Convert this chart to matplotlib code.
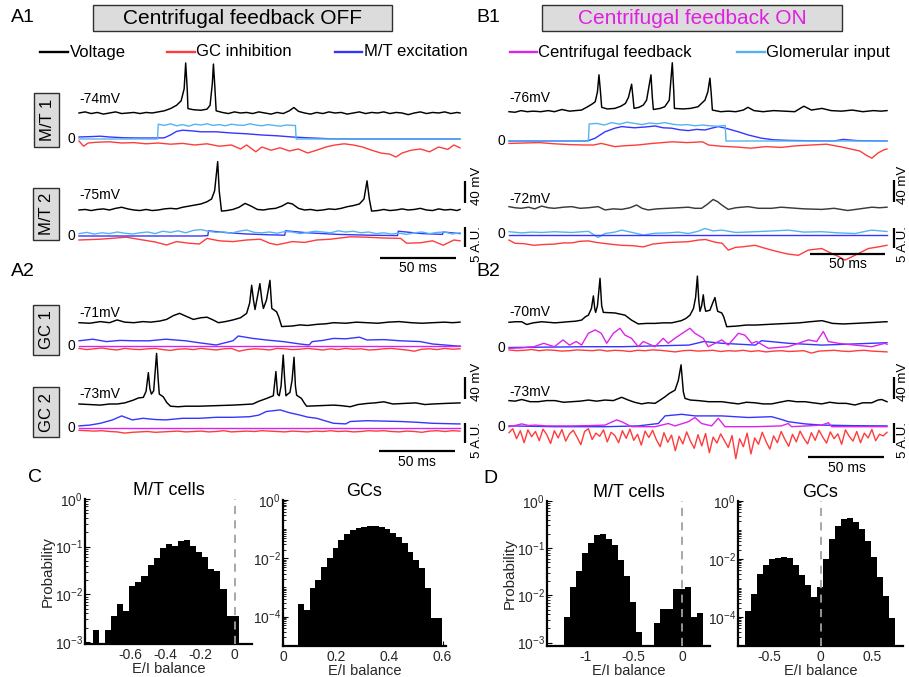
import numpy as np
import matplotlib
matplotlib.use("Agg")
import matplotlib.pyplot as plt
from matplotlib.patches import Rectangle
from matplotlib.lines import Line2D
from matplotlib.ticker import FixedLocator, NullFormatter, LogFormatterSciNotation

plt.rcParams['font.family'] = ['Liberation Sans', 'DejaVu Sans']
plt.rcParams['axes.unicode_minus'] = False
plt.rcParams['mathtext.fontset'] = 'custom'
plt.rcParams['mathtext.rm'] = 'Liberation Sans'
plt.rcParams['mathtext.it'] = 'Liberation Sans:italic'
plt.rcParams['mathtext.bf'] = 'Liberation Sans:bold'

# ======================= DATA =======================
t5 = np.arange(0, 251, 5)
t25 = np.arange(0, 250.1, 2.5)

# ---- A1, M/T 1 (feedback OFF) ----
a1m1_vt = [0,4,8,12,16,20,24,28,32,36,40,44,48,52,56,60,64,67,69,70,71,71.5,75,80,84,86,87.5,88.2,89,90,
           94,98,102,106,110,114,118,122,126,130,134,138,141,144,148,152,156,160,164,168,172,176,180,184,188,
           192,196,200,204,208,212,216,220,224,228,232,236,240,244,248,250]
a1m1_v = [-74,-72,-75,-73,-76,-74,-72,-75,-74,-73,-75,-73,-74,-72,-70,-66,-60,-52,-30,17,-30,-66,-68,-69,-67,-60,-20,15,-20,-70,
          -73,-75,-72,-74,-73,-75,-72,-74,-76,-73,-75,-70,-64,-71,-74,-76,-73,-75,-72,-74,-73,-76,-74,-72,-75,
          -73,-74,-72,-75,-73,-74,-77,-74,-72,-75,-73,-74,-72,-75,-73,-74]
a1m1_glt = [0,51.5,52,56,60,64,68,72,76,80,84,88,92,96,100,104,108,112,116,120,124,128,132,136,140,142,142.5,250]
a1m1_gl = [0,0,3.7,3.4,3.8,3.3,3.6,3.2,3.7,3.5,3.8,3.4,3.6,3.3,3.7,3.5,3.4,3.8,3.5,3.3,3.6,3.4,3.2,3.5,3.4,3.4,0,0]
a1m1_mtt = [0,8,14,20,30,40,50,56,60,64,68,75,80,90,100,110,120,130,140,150,165,180,250]
a1m1_mt = [0.5,0.6,0.7,0.5,0.3,0.25,0.25,0.3,1.0,1.9,2.2,2.0,1.8,1.8,1.5,1.3,1.0,0.8,0.5,0.3,0.05,0,0]
a1m1_gct = [0,3,6,12,20,28,36,44,52,60,68,76,84,92,100,106,110,116,120,126,132,138,144,150,156,162,168,174,180,186,
            192,198,204,208,212,218,224,230,236,242,246,250]
a1m1_gc = [-0.5,-1.8,-1.0,-0.8,-0.7,-1.0,-0.9,-1.2,-1.0,-1.3,-1.1,-1.5,-1.2,-1.8,-1.5,-2.5,-1.5,-3.2,-2.0,-2.8,
           -2.2,-3.0,-2.5,-3.5,-2.8,-2.0,-1.5,-1.2,-1.5,-2.0,-2.8,-3.5,-3.8,-4.5,-3.5,-2.8,-2.5,-3.2,-2.0,-2.6,-1.5,-2.2]

# ---- A1, M/T 2 ----
a1m2_vt = [0,4,8,12,16,20,24,28,32,36,40,44,48,52,56,60,64,68,72,76,80,84,87,89,91,92,93.5,97,101,105,109,113,117,121,
           125,129,133,137,140,144,148,152,156,160,164,168,172,176,180,184,187,189,190.5,192,196,200,204,208,212,216,
           220,224,228,232,236,240,244,248,250]
a1m2_v = [-75,-74,-76,-74,-73,-75,-72,-70,-73,-75,-76,-74,-76,-75,-73,-72,-73,-70,-68,-66,-64,-60,-55,-40,13,-40,-77,
          -76,-74,-70,-63,-68,-74,-75,-73,-72,-68,-62,-64,-72,-75,-74,-76,-75,-73,-74,-72,-69,-67,-64,-55,-22,-55,-77,
          -76,-74,-76,-75,-73,-75,-74,-72,-75,-76,-73,-75,-74,-76,-74]
a1m2_mtt = [0,80,84.5,85,95,110,125,135,135.5,150,170,190,209,209.5,225,238.5,239,250]
a1m2_mt = [0,0,0.1,1.3,0.9,0.5,0.3,0.2,1.3,0.8,0.4,0.2,0.1,1.2,0.6,0.4,1.0,0.6]
a1m2_gl = [0.6,0.9,0.5,0.8,0.6,1.0,0.7,0.5,0.8,1.0,0.6,1.2,0.9,1.3,0.8,1.4,1.6,1.2,0.9,1.0,0.7,1.2,1.5,0.9,0.8,1.0,
           0.7,1.1,1.0,0.6,0.9,1.2,1.0,0.8,1.3,1.0,1.2,0.8,1.0,0.6,0.8,0.5,0.7,0.4,0.8,1.0,0.6,0.9,1.0,0.5,0.8]
a1m2_gct = [0,14,31,42,50,57.5,64,72,79,84,92,101,110,119,125,130,140,148,156,165,178,189,200,211,215,224,232,239,246,250]
a1m2_gc = [-1.0,-0.8,-0.3,-1.0,-1.5,-2.25,-1.4,-1.8,-2.0,-0.6,-1.2,-1.4,-1.0,-0.8,-1.8,-2.2,-1.4,-1.6,-1.0,-0.8,
           -0.2,-0.3,-0.5,-0.6,-1.8,-1.7,-1.2,-2.3,-1.0,-1.2]

# ---- A2, GC 1 ----
a2g1_vt = [0,7,14,20,25,30,36,42,47,53,57.5,62,66,70,75,80,84,88,91.5,96,101,106,110,112,113.3,114.5,115.5,117,118.7,
           120,121,123,125.3,126.5,129.6,131,133,140,145,150,156,162,167,175,182,189,196,203,210,218,225,232,240,245,250]
a2g1_v = [-71,-72,-69,-71,-66,-70,-71,-69,-70,-68,-65,-58,-54,-59,-65,-62,-61,-66,-71,-69,-66,-62,-54,-35,-3,-30,-47,
          -25,0,-30,-45,-30,6,-45,-51,-60,-78,-77,-75,-76,-74,-73,-71,-72,-70,-71,-72,-70,-69,-71,-72,-71,-70,-71,-70]
a2g1_mtt = [0,9,18,27,36,46,57,70,79,90,101,104.5,114,123,134,145,151,153,160,167,175,184,189,200,211,224,232,248,250]
a2g1_mt = [1.3,1.7,1.1,1.4,1.3,1.3,1.7,1.3,0.8,0.25,1.3,2.5,1.9,1.5,1.1,0.5,0.25,1.1,1.4,1.9,1.8,2.2,1.5,1.6,1.3,
           1.1,0.5,0.0,0]
a2g1_cft = [0, 250]
a2g1_cf = [0, 0]
a2g1_gc = [-0.6,-0.9,-0.7,-0.5,-0.8,-1.0,-0.6,-0.8,-0.9,-0.7,-0.6,-0.9,-1.1,-0.8,-0.7,-0.9,-0.6,-0.8,-1.0,-0.7,
           -0.6,-1.3,-0.9,-0.7,-0.8,-1.0,-0.6,-0.7,-0.9,-0.8,-0.6,-0.8,-1.0,-0.7,-0.9,-0.6,-0.8,-0.7,-1.0,-0.9,
           -0.7,-0.6,-0.8,-1.0,-1.3,-0.8,-0.7,-0.9,-0.6,-0.8,-0.7]

# ---- A2, GC 2 ----
a2g2_vt = [0,7,14,20,25,30,35.6,39,42.2,44,45.5,46.5,47.5,49,50.9,52,52.7,55.3,57.5,60,65,70,79,90,101,108,114,118,123,
           127.5,129.2,130.3,131.4,132.6,134,135,135.8,137,138.4,139.8,141.1,142,142.8,146,148,149.4,158,167,172,178,
           183,189,194,200,206,213,221,227,232,240,250]
a2g2_v = [-73,-74,-75,-73,-73,-71,-66,-62,-61,-50,-16,-45,-55,-49,19,-30,-55,-60,-70,-77,-78,-77,-77,-76,-75,-74,-73,
          -68,-63,-58,-14,-55,-58,-40,16,-30,-58,-55,-52,-30,12,-40,-57,-63,-72,-77,-76,-75,-76,-78,-74,-72,-71,-69,
          -73,-72,-71,-74,-73,-72,-71]
a2g2_mtt = [0,7,14,22,28,35,42,50,57,68,79,90,101,112,118,123,132,138,145,150,156,167,175,178,189,200,211,222,232,248,250]
a2g2_mt = [0.6,0.8,1.25,2.1,3.1,2.1,2.5,2.2,2.1,2.5,2.5,2.75,2.75,2.9,3.3,4.2,4.6,3.9,3.3,2.8,2.5,1.25,1.1,1.7,1.9,
           1.8,1.7,1.5,1.25,1.1,1.1]
a2g2_cft = [0, 250]
a2g2_cf = [0, 0]
a2g2_gc = [-0.5,-0.6,-0.7,-0.6,-0.8,-0.9,-1.2,-1.0,-0.9,-0.8,-1.0,-0.9,-0.8,-0.7,-0.9,-0.8,-0.7,-0.9,-0.8,-0.6,
           -0.9,-0.8,-0.7,-0.8,-0.6,-0.7,-0.8,-0.9,-0.7,-0.8,-0.9,-0.7,-0.8,-0.6,-0.8,-0.7,-0.9,-0.8,-0.6,-0.7,
           -0.6,-0.8,-0.9,-0.7,-0.8,-1.0,-0.7,-0.6,-0.8,-0.6,-0.7]

# ---- B1, M/T 1 (feedback ON) ----
b1m1_vt = [0,4,8,12,16,21,26,30,35,40,44,48,52,55,57,58.5,59.5,60.5,61.3,65,70,74,77,79,81.1,82,82.7,86,88.8,91,93.9,
           94.8,95.5,100,103,106,108,109,109.4,115,120,125,129.6,131.5,132.9,133.8,134.5,140,145,150,155,158,162,168,
           175,182,189,195,200,207,213,220,227,234,241,246,250]
b1m1_v = [-76,-77,-74,-76,-75,-76,-74,-76,-72,-75,-74,-73,-67,-62,-58,-40,-9,-40,-68,-71,-70,-66,-61,-50,-26,-50,-70,
          -68,-64,-55,-9,-50,-72,-70,-67,-55,13,-40,-70,-71,-70,-67,-55,-40,-15,-45,-73,-76,-75,-76,-73,-68,-74,-76,
          -74,-75,-76,-66,-73,-70,-74,-75,-73,-76,-74,-75,-74]
b1m1_glt = [0,52.5,53,58,63,68,73,78,83,88,93,98,103,108,113,118,123,128,133,138,143,143.5,250]
b1m1_gl = [0,0,4.25,4.4,4.0,4.6,4.2,4.7,4.4,4.1,4.5,4.3,4.6,4.2,4.0,4.1,3.8,4.0,3.8,3.7,3.9,0,0]
b1m1_mtt = [0,50,52.5,57,63.5,70,74.5,83,90,96.6,102,107.6,113,118.6,124,129.6,134,138.4,143.3,151.7,158.3,167,175,
            185,200,215,221,230,250]
b1m1_mt = [0,0,0.1,0.7,2.3,3.2,3.6,3.3,3.5,3.75,3.3,3.2,2.8,2.6,2.9,2.75,3.2,3.6,3.2,2.3,1.5,0.7,0.3,0.15,0.05,0,
           0.4,0.1,0]
b1m1_gct = [0,10,20,30,40,50,56,61,70,76,85,95,108,118,128,132,140,150,160,170,180,190,200,210,220,226,232,236,240,
            244,248,250]
b1m1_gc = [-0.6,-0.5,-0.4,-0.7,-0.9,-1.0,-1.0,-0.6,-1.4,-1.2,-1.0,-0.6,-0.2,-0.4,-0.2,-1.0,-1.3,-1.5,-1.8,-1.4,
           -1.6,-1.2,-1.0,-0.8,-1.5,-2.0,-2.5,-3.5,-4.3,-3.0,-2.2,-2.0]

# ---- B1, M/T 2 ----
b1m2_vt = [0,4,8,13,17,21.6,26,30,36,41.5,47,52.5,59,63.5,69,74.5,80,84.4,88,92,98,105,112,118.6,123,127.4,131,135,
           138,140.7,145,150,158,165,173.7,180,185,195,207,215,224,232,240,245,250]
b1m2_v = [-69,-71,-72,-70,-73,-68,-71,-72,-70,-69,-72,-71,-69,-75,-73,-74,-71,-66,-72,-75,-73,-72,-71,-70,-72,-72,
          -65,-56,-60,-66,-74,-71,-69,-72,-72,-70,-71,-73,-74,-72,-76,-73,-70,-71,-70]
b1m2_glt = [0,8.4,15,21.6,30,41.5,52.5,59,63.5,70,74.5,84,88.8,96,105,112,118.6,125,129.6,135,140.7,150,162.8,175,
            184.7,195,206.8,218,228.8,239.9,250]
b1m2_gl = [0.7,0.4,0.6,0.5,0.7,0.5,0.8,-0.75,0.25,0.6,1.1,0.3,-0.15,0.3,0.4,0.6,0.25,0.8,1.5,0.9,1.1,0.5,0.7,0.9,
           1.1,0.6,0.7,0.4,0.25,1.1,0.75]
b1m2_mtt = [0, 250]
b1m2_mt = [0, 0]
b1m2_gct = [0,4,10,16.5,23,30,36,41.5,47,52.5,58,63.5,69,74.5,82,88.8,95,105,118.6,125,130,136,141,145,150,154,162.8,
            168,173.7,180,184.7,191.4,197.9,206.8,213.4,218,222.2,228.8,237.7,244.3,250]
b1m2_gc = [-1.4,-2.2,-2.3,-2.7,-2.5,-2.4,-2.1,-2.1,-1.7,-1.6,-2.0,-2.25,-2.5,-2.7,-2.8,-3.1,-2.4,-2.0,-1.8,-1.4,
           -1.25,-1.9,-2.2,-3.9,-3.2,-3.1,-2.7,-3.3,-3.9,-4.5,-4.9,-5.2,-3.9,-3.5,-4.75,-5.5,-6.4,-5.2,-3.5,-3.1,-2.7]

# ---- B2, GC 1 ----
b2g1_vt = [0,4,8.4,11.7,16,21.6,26,30.4,35,39,44,48,50.5,52.5,54.5,55.8,56.7,57.3,58.5,60.2,61.3,62.4,70,76.7,81,
           85.5,91,96.6,102,107.6,114,117,119.7,122,123.4,124.6,125.5,126.3,127.4,128.5,129.3,130.1,132.9,134.7,136.2,
           137.2,138,140.7,142,144,150,157,163,170,177,185,192,199,207,214,221,229,236,243,249,250]
b2g1_v = [-70,-69,-69,-74,-71,-69,-70,-71,-70,-69,-68,-66,-60,-57,-45,-22,-45,-52,-40,10,-40,-52,-53,-57,-66,-73,
          -72,-72,-71,-71,-67,-63,-57,-45,-25,14,-30,-50,-40,-20,-40,-50,-48,-35,-25,-40,-50,-53,-60,-78,-77,-75,
          -75,-74,-73,-72,-71,-69,-67,-72,-73,-72,-71,-70,-69,-69]
b2g1_cft = [0,8,16.5,23,30,35.7,40,44.5,48,52.5,57,61,64.6,69,73.4,76.7,81,85.5,88.8,96.6,102,105.3,109.7,116.4,119.7,
            123,128.5,131.8,140.7,145,151.7,156,160.5,163.8,171.5,184.7,198,203.5,207.9,211.2,217.8,228.8,239.9,248.7,250]
b2g1_cf = [0,0.1,0.4,1.25,0.4,2.1,0.8,1.7,0.8,3.75,4.6,3.75,1.25,3.75,5.0,3.3,2.5,0.4,1.7,0.4,2.5,1.25,2.5,4.2,5.0,
           3.75,2.5,0.4,2.1,0.8,3.75,3.3,1.25,1.7,0,0.4,2.1,1.7,4.2,1.7,1.25,0.8,0.4,1.25,1.0]
b2g1_mtt = [0,52,75,96,119,129,141,163,167,185,207,229,250]
b2g1_mt = [0.2,0.4,0.4,0.6,0.8,1.7,1.25,0.8,1.9,1.25,0.8,1.1,1.4]
b2g1_gc = [-0.4,-0.6,-0.5,-0.3,-0.6,-0.4,-0.5,-0.7,-0.6,-0.4,-0.5,-0.6,-0.4,-0.7,-0.5,-0.6,-0.8,-0.5,-0.6,-0.4,
           -0.5,-0.7,-0.9,-0.6,-0.5,-0.7,-0.6,-0.5,-0.8,-0.6,-0.7,-0.5,-0.8,-0.6,-0.9,-0.7,-0.6,-0.8,-0.7,-0.6,
           -1.2,-0.7,-0.6,-0.5,-0.7,-0.8,-0.6,-0.5,-0.7,-0.8,-0.9]

# ---- B2, GC 2 ----
b2g2_vt = [0,4,8.4,14,19.4,25,30.4,36,41.5,47,52.5,58,63.5,69,74.5,78.9,83,87.7,92,96.6,100,103.2,106,109.8,112,113.8,
           115.3,116.4,120,125.2,132,140.7,146,151.7,157,162.8,168,173.7,179,184.7,190,195.8,201,206.8,212,217.8,223,
           228.8,234,239.9,244,246.5,250]
b2g2_v = [-71,-72,-69,-73,-73,-71,-71,-74,-73,-72,-70,-72,-70,-71,-65,-70,-74,-77,-75,-76,-70,-64,-58,-52,-34,-6,
          -55,-67,-70,-71,-73,-73,-75,-77,-74,-75,-77,-77,-74,-71,-73,-73,-75,-77,-74,-76,-76,-79,-75,-75,-70,-69,-73]
b2g2_mtt = [0,30,63.5,85.5,98.8,103.2,114.2,123,140.7,158.3,173.7,180.3,184.7,195.8,206.8,228.8,250]
b2g2_mt = [0.2,0,0,0.2,0.8,2.7,3.1,2.7,2.7,2.3,2.5,1.8,1.25,0.7,0.4,0.25,0.2]
b2g2_cft = [0,4,8.4,13,17.2,25,41.5,55,63.5,71.2,74.5,81.1,96.6,105.3,109.8,118.6,123,127.4,134,138.4,142.9,162.8,180,
            184.7,186.9,206.8,211.2,213.4,250]
b2g2_cf = [0,0.3,0.7,0.3,0.4,0.2,0.2,0.3,0.4,1.7,1.25,0,0,0.8,0.2,1.25,2.3,0.8,0.2,2.1,0,0,0.2,0.8,0,0.4,1.0,0,0]
b2g2_gc = [-1.5,-0.5,-3.0,-1.0,-4.0,-0.8,-2.5,-1.2,-3.5,-0.6,-2.0,-4.2,-1.0,-2.8,-0.7,-3.6,-1.8,-0.9,-2.6,-4.5,
           -1.2,-0.5,-3.2,-1.6,-2.4,-0.8,-3.8,-1.4,-2.2,-4.0,-1.0,-2.9,-0.6,-3.4,-1.9,-4.6,-1.1,-2.7,-0.9,-3.3,
           -5.0,-1.5,-3.9,-2.1,-6.0,-2.4,-4.3,-1.3,-3.6,-5.4,-2.0,-4.8,-1.7,-6.5,-2.6,-4.1,-1.8,-3.5,-5.2,-2.2,
           -8.0,-3.0,-5.0,-1.6,-6.8,-2.8,-4.4,-1.4,-3.7,-5.6,-2.3,-4.0,-1.2,-3.2,-4.9,-1.9,-3.8,-1.1,-2.9,-4.3,
           -1.5,-3.4,-0.9,-2.6,-4.1,-1.3,-3.0,-1.8,-4.4,-0.8,-2.4,-3.6,-1.2,-4.0,-1.6,-2.8,-0.7,-3.5,-1.9,-2.3,-1.4]

# ---- E/I balance histograms (bin start, bin width, probability per bin) ----
hc_mt_start, hc_mt_w = -0.819, 0.0351
hc_mt_p = [1.76e-3,0,1.76e-3,3.5e-3,6.2e-3,4.5e-3,0.0149,0.0184,0.0242,0.0406,0.058,0.093,0.112,0.104,0.132,0.139,
           0.104,0.079,0.062,0.0334,0.0308,0.0127,3.47e-3,3.47e-3]
hc_gc_start, hc_gc_w = 0.0565, 0.0217
hc_gc_p = [2.6e-4,1.7e-4,9.3e-4,1.8e-3,4.9e-3,0.0102,0.0234,0.0427,0.0708,0.0933,0.112,0.123,0.129,0.129,0.117,
           0.100,0.0741,0.0537,0.0324,0.0170,8.5e-3,4.6e-3,9.3e-4,8.7e-5,8.7e-5]
hd_mt_start, hd_mt_w = -1.225, 0.0626
hd_mt_p = [3.5e-3,0.0151,0.0324,0.0776,0.126,0.188,0.195,0.158,0.115,0.0562,0.025,7.1e-3,1.7e-3,0,0,2.6e-3,5.1e-3,
           5.1e-3,0.0135,0.0135,0.0151,3.4e-3,4.2e-3]
hd_gc_start, hd_gc_w = -0.733, 0.0584
hd_gc_p = [1.6e-4,6.3e-4,2.95e-3,5.9e-3,9.8e-3,0.0107,0.0115,0.0102,6.0e-3,2.75e-3,1.23e-3,4.7e-4,1.07e-3,9.5e-3,
           0.0468,0.135,0.229,0.257,0.191,0.102,0.0407,0.0117,2.3e-3,5.1e-4,8.7e-5]

legend_labels = ['Voltage', 'GC inhibition', 'M/T excitation', 'Centrifugal feedback', 'Glomerular input']

# ======================= STYLE =======================
C_V = 'black'
C_GC = '#ff3b3b'
C_MT = '#3535ff'
C_CF = '#dd22ee'
C_GL = '#55b4f0'
TXT = '#262626'

W, H = 909, 677
fig = plt.figure(figsize=(W / 100, H / 100), dpi=100)


def fxy(x, y):
    return x / W, 1 - y / H


def ax_px(x0, y0, x1, y1):
    return fig.add_axes([x0 / W, 1 - y1 / H, (x1 - x0) / W, (y1 - y0) / H])


LEFT = (79.0, 1.524)
RIGHT = (509.0, 1.512)
MV_PX = 0.55   # pixels per mV
AU_PX = 4.0    # pixels per A.U.


def trace_ax(col, y_ref, v_ref, ppu, up=80, down=40):
    x0, s = col
    ax = ax_px(x0, y_ref - up, x0 + 250 * s, y_ref + down)
    ax.set_xlim(0, 250)
    ax.set_ylim(v_ref - down / ppu, v_ref + up / ppu)
    ax.set_axis_off()
    ax.patch.set_alpha(0)
    return ax


def pl(ax, t, v, color, lw=1.0, z=2):
    n = min(len(t), len(v))
    ax.plot(np.asarray(t[:n], float), np.asarray(v[:n], float), color=color, lw=lw,
            clip_on=False, zorder=z)


def ftext(x, y, s, **kw):
    fig.text(x / W, 1 - y / H, s, **kw)


cells = [
    dict(col=LEFT, yv=113, vb=-74, y0=139, lab_y=99, v=(a1m1_vt, a1m1_v), vc=C_V,
         inputs=[(a1m1_gct, a1m1_gc, C_GC), (a1m1_mtt, a1m1_mt, C_MT), (a1m1_glt, a1m1_gl, C_GL)]),
    dict(col=LEFT, yv=210, vb=-75, y0=236, lab_y=195, v=(a1m2_vt, a1m2_v), vc=C_V,
         inputs=[(a1m2_gct, a1m2_gc, C_GC), (a1m2_mtt, a1m2_mt, C_MT), (t5, a1m2_gl, C_GL)]),
    dict(col=LEFT, yv=322.7, vb=-71, y0=346, lab_y=312.7, v=(a2g1_vt, a2g1_v), vc=C_V,
         inputs=[(t5, a2g1_gc, C_GC), (a2g1_mtt, a2g1_mt, C_MT), (a2g1_cft, a2g1_cf, C_CF)]),
    dict(col=LEFT, yv=404, vb=-73, y0=428.3, lab_y=394, v=(a2g2_vt, a2g2_v), vc=C_V,
         inputs=[(t5, a2g2_gc, C_GC), (a2g2_mtt, a2g2_mt, C_MT), (a2g2_cft, a2g2_cf, C_CF)]),
    dict(col=RIGHT, yv=111.7, vb=-76, y0=141, lab_y=98.3, v=(b1m1_vt, b1m1_v), vc=C_V,
         inputs=[(b1m1_gct, b1m1_gc, C_GC), (b1m1_mtt, b1m1_mt, C_MT), (b1m1_glt, b1m1_gl, C_GL)]),
    dict(col=RIGHT, yv=208.3, vb=-72, y0=234.5, lab_y=199, v=(b1m2_vt, b1m2_v), vc='#3a3a3a',
         inputs=[(b1m2_gct, b1m2_gc, C_GC), (b1m2_glt, b1m2_gl, C_GL), (b1m2_mtt, b1m2_mt, C_MT)]),
    dict(col=RIGHT, yv=322.3, vb=-70, y0=348.3, lab_y=311.7, v=(b2g1_vt, b2g1_v), vc=C_V,
         inputs=[(t5, b2g1_gc, C_GC), (b2g1_mtt, b2g1_mt, C_MT), (b2g1_cft, b2g1_cf, C_CF)]),
    dict(col=RIGHT, yv=401.7, vb=-73, y0=426.7, lab_y=391.7, v=(b2g2_vt, b2g2_v), vc=C_V,
         inputs=[(t25, b2g2_gc, C_GC), (b2g2_mtt, b2g2_mt, C_MT), (b2g2_cft, b2g2_cf, C_CF)]),
]

vaxes, iaxes = [], []
for c in cells:
    ia = trace_ax(c['col'], c['y0'], 0.0, AU_PX, up=40, down=40)
    for (tt, vv, colr) in c['inputs']:
        pl(ia, tt, vv, colr, lw=1.0)
    va = trace_ax(c['col'], c['yv'], c['vb'], MV_PX, up=80, down=20)
    pl(va, c['v'][0], c['v'][1], c['vc'], lw=1.05)
    vaxes.append(va)
    iaxes.append(ia)
    x0 = c['col'][0]
    ftext(x0, c['lab_y'], '%dmV' % c['vb'], fontsize=10, ha='left', va='center', color='black')
    ftext(x0 - 3.5, c['y0'], '0', fontsize=10, ha='right', va='center', color='black')

# ---- scale bars (in data units: 40 mV, 5 A.U., 50 ms) ----
bars = [
    # cell idx, t of vertical bars, V start, AU top, time-bar start, time-bar AU level, text positions
    (1, 253.3, -62, 2.25, 197.5, -5.575, (477.5, 186), (477.5, 244), (418, 267.5)),
    (3, 253.3, -63, 1.4, 197.0, -5.675, (477.5, 382), (477.5, 440), (417, 461.5)),
    (5, 254.8, -60, 1.75, 199.0, -4.9, (902.5, 185), (902.5, 244), (848, 263.5)),
    (7, 254.8, -67.5, 1.0, 198.0, -7.65, (902.5, 382), (902.5, 440), (847, 467.5)),
]
for (ci, tb, vs, aut, ts, tl, p40, p5, p50) in bars:
    vaxes[ci].plot([tb, tb], [vs, vs + 40], color='black', lw=1.6, clip_on=False, solid_capstyle='butt')
    iaxes[ci].plot([tb, tb], [aut, aut - 5], color='black', lw=1.6, clip_on=False, solid_capstyle='butt')
    iaxes[ci].plot([ts, ts + 50], [tl, tl], color='black', lw=1.6, clip_on=False, solid_capstyle='butt')
    ftext(p40[0], p40[1], '40 mV', fontsize=9.5, rotation=90, ha='center', va='center')
    ftext(p5[0], p5[1], '5 A.U.', fontsize=9.5, rotation=90, ha='center', va='center')
    ftext(p50[0], p50[1], '50 ms', fontsize=10, ha='center', va='center')

# ---- title boxes ----
for (bx0, bx1, txt, tc) in [(93, 392, 'Centrifugal feedback OFF', 'black'),
                            (542, 842, 'Centrifugal feedback ON', '#e020e0')]:
    fig.patches.append(Rectangle(fxy(bx0, 30.5), (bx1 - bx0) / W, 25.5 / H, transform=fig.transFigure,
                                 facecolor='#dcdcdc', edgecolor='#303030', lw=1.0))
    ftext((bx0 + bx1) / 2, 18, txt, fontsize=15, color=tc, ha='center', va='center')

# ---- row label boxes ----
for (bx0, by0, bx1, by1, txt) in [(34, 93, 59, 147, 'M/T 1'), (33, 188, 59, 240, 'M/T 2'),
                                  (33, 305, 59, 355, 'GC 1'), (33, 387, 59, 437, 'GC 2')]:
    fig.patches.append(Rectangle(fxy(bx0, by1), (bx1 - bx0) / W, (by1 - by0) / H, transform=fig.transFigure,
                                 facecolor='#dcdcdc', edgecolor='#303030', lw=1.0))
    ftext((bx0 + bx1) / 2 + 0.5, (by0 + by1) / 2, txt, fontsize=12, rotation=90, ha='center', va='center')

# ---- panel letters ----
for (x, y, s) in [(23, 17, 'A1'), (488, 17, 'B1'), (23, 271, 'A2'), (488, 271, 'B2'),
                  (35, 477.5, 'C'), (490, 478.5, 'D')]:
    ftext(x, y, s, fontsize=14, ha='center', va='center')

# ---- legend ----
leg = [(40, 68, C_V), (167, 195, C_GC), (335, 362, C_MT), (510, 537, C_CF), (737, 765, C_GL)]
for (lx0, lx1, colr), lab in zip(leg, legend_labels):
    fig.lines.append(Line2D([lx0 / W, lx1 / W], [1 - 51.7 / H] * 2, transform=fig.transFigure,
                            color=colr, lw=1.7))
    ftext(lx1 + 1.5, 52, lab, fontsize=12, ha='left', va='center')


# ======================= HISTOGRAMS =======================
def hist_ax(rect, start, w, probs, xlim, ylim, xticks, xticklabels, major, title, ylabel, dashed=True):
    ax = ax_px(*rect)
    ax.set_yscale('log')
    p = np.asarray(probs, float)
    lefts = start + w * np.arange(len(p))
    keep = p > 0
    bottom = 1e-8
    ax.bar(lefts[keep], p[keep] - bottom, width=w, bottom=bottom, align='edge',
           color='black', edgecolor='none', lw=0, zorder=2)
    if dashed:
        ax.axvline(0, color='#a0a0a0', lw=1.3, ls=(0, (4.5, 3.5)), zorder=3)
    ax.set_xlim(*xlim)
    ax.set_ylim(*ylim)
    ax.set_xticks(xticks)
    ax.set_xticklabels(xticklabels)
    ax.yaxis.set_major_locator(FixedLocator(major))
    ax.yaxis.set_major_formatter(LogFormatterSciNotation())
    lo = int(np.floor(np.log10(ylim[0])))
    minors = []
    for d in range(lo, 1):
        for m in range(1, 10):
            val = m * 10.0 ** d
            if ylim[0] <= val <= ylim[1] and not any(abs(val - mj) < 1e-12 for mj in major):
                minors.append(val)
    ax.yaxis.set_minor_locator(FixedLocator(minors))
    ax.yaxis.set_minor_formatter(NullFormatter())
    for s in ['top', 'right']:
        ax.spines[s].set_visible(False)
    for s in ['left', 'bottom']:
        ax.spines[s].set_linewidth(1.6)
    ax.tick_params(axis='both', which='major', direction='in', length=3.5, width=0.8,
                   labelsize=10, labelcolor=TXT, pad=3)
    ax.tick_params(axis='y', which='major', pad=1.5)
    ax.tick_params(axis='y', which='minor', direction='in', length=2, width=0.6)
    ax.set_title(title, fontsize=13, pad=1)
    ax.set_xlabel('E/I balance', fontsize=10.5, labelpad=0, color=TXT)
    if ylabel:
        ax.set_ylabel('Probability', fontsize=11, labelpad=0, color=TXT)
    return ax


hist_ax((85, 499, 252, 644), hc_mt_start, hc_mt_w, hc_mt_p, (-0.864, 0.10), (10 ** -3.04, 1),
        [-0.6, -0.4, -0.2, 0], ['-0.6', '-0.4', '-0.2', '0'], [1e-3, 1e-2, 1e-1, 1], 'M/T cells', True)
hist_ax((283, 500, 446, 645.7), hc_gc_start, hc_gc_w, hc_gc_p, (0, 0.613), (1e-5, 1),
        [0, 0.2, 0.4, 0.6], ['0', '0.2', '0.4', '0.6'], [1e-4, 1e-2, 1], 'GCs', False, dashed=False)
hist_ax((547, 500.7, 710, 645.7), hd_mt_start, hd_mt_w, hd_mt_p, (-1.40, 0.29), (10 ** -3.065, 1),
        [-1, -0.5, 0], ['-1', '-0.5', '0'], [1e-3, 1e-2, 1e-1, 1], 'M/T cells', True)
hist_ax((738, 500.7, 903, 645.7), hd_gc_start, hd_gc_w, hd_gc_p, (-0.80, 0.80), (1e-5, 1),
        [-0.5, 0, 0.5], ['-0.5', '0', '0.5'], [1e-4, 1e-2, 1], 'GCs', False)

fig.savefig('out.png', dpi=100)
